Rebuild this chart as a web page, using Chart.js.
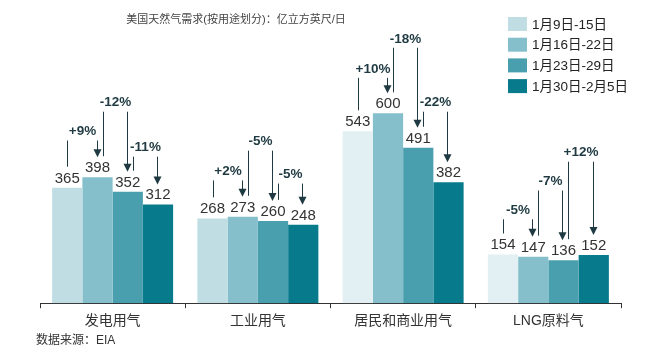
<!DOCTYPE html>
<html>
<head>
<meta charset="utf-8">
<script src="https://cdn.jsdelivr.net/npm/chart.js@4/dist/chart.umd.min.js"></script>
<style>
  html, body { margin: 0; padding: 0; background: #fff; }
  #wrap { width: 661px; height: 354px; }
</style>
</head>
<body>
<div id="wrap"><canvas id="gasChart" width="661" height="354"></canvas></div>
<script>
const categories = ['发电用气', '工业用气', '居民和商业用气', 'LNG原料气'];
const weeks = ['1月9日-15日', '1月16日-22日', '1月23日-29日', '1月30日-2月5日'];
const week1 = [365, 268, 543, 154];
const week2 = [398, 273, 600, 147];
const week3 = [352, 260, 491, 136];
const week4 = [312, 248, 382, 152];
// week-on-week change per category: [w1->w2, w2->w3, w3->w4]
const changes = [
    ['+9%', '-12%', '-11%'],
    ['+2%', '-5%', '-5%'],
    ['+10%', '-18%', '-22%'],
    ['-5%', '-7%', '+12%']
];
// height of each change bracket, in data units (y scale)
const bracketLevels = [
    [514, 605, 463],
    [388, 482, 378],
    [712, 807, 605],
    [265, 356, 447]
];

const titleText = '美国天然气需求(按用途划分)：亿立方英尺/日';
const sourceText = '数据来源：EIA';
const seriesColors = ['#bfdde3', '#85bfcb', '#4a9fae', '#077b8c'];
const week1Colors = ['#bfdde3', '#bfdde3', '#e3f0f3', '#e3f0f3'];
const ink = '#1f3a42';
const FONT = '"Liberation Sans", Arial, "Noto Sans CJK SC", sans-serif';

const extras = {
    id: 'extras',
    afterDatasetsDraw(chart) {
        const c = chart.ctx;
        const y = chart.scales.y;
        c.save();

        // value labels
        c.fillStyle = '#333';
        c.font = '15px ' + FONT;
        c.textAlign = 'center';
        c.textBaseline = 'alphabetic';
        chart.data.datasets.forEach((ds, di) => {
            chart.getDatasetMeta(di).data.forEach((bar, i) => {
                c.fillText(String(ds.data[i]), bar.x, bar.y - 5);
            });
        });

        // change brackets
        c.strokeStyle = ink;
        c.fillStyle = ink;
        c.lineWidth = 1;
        categories.forEach((cat, ci) => {
            for (let p = 0; p < 3; p++) {
                const a = chart.getDatasetMeta(p).data[ci];
                const b = chart.getDatasetMeta(p + 1).data[ci];
                const x1 = Math.round(a.x + (p === 0 ? 0 : 5)) + 0.5;
                const x2 = Math.round(b.x - 1) + 0.5;
                const top = y.getPixelForValue(bracketLevels[ci][p]);
                const startBottom = a.y - 21;
                const endBottom = b.y - 20;
                c.beginPath();
                c.moveTo(x1, top);
                c.lineTo(x1, startBottom);
                c.moveTo(x2, top);
                c.lineTo(x2, endBottom - 7);
                c.stroke();
                c.beginPath();
                c.moveTo(x2 - 4, endBottom - 8);
                c.lineTo(x2 + 4, endBottom - 8);
                c.lineTo(x2, endBottom);
                c.closePath();
                c.fill();
                c.font = 'bold 13.5px ' + FONT;
                c.textAlign = 'center';
                c.textBaseline = 'middle';
                c.fillText(changes[ci][p], (x1 + x2) / 2, top - 9);
            }
        });

        // title
        c.fillStyle = '#444';
        c.font = '11px ' + FONT;
        c.textAlign = 'center';
        c.textBaseline = 'middle';
        c.fillText(titleText, 236, 20);

        // legend
        c.font = '13.5px ' + FONT;
        c.textAlign = 'left';
        weeks.forEach((w, i) => {
            const cy = 24 + i * 20.7;
            c.fillStyle = seriesColors[i];
            c.fillRect(508, cy - 7, 19, 14);
            c.fillStyle = '#222';
            c.fillText(w, 532, cy + 1);
        });

        // source
        c.fillStyle = '#333';
        c.font = '12px ' + FONT;
        c.fillText(sourceText, 36, 341);
        c.restore();
    }
};

const ctx = document.getElementById('gasChart').getContext('2d');
new Chart(ctx, {
    type: 'bar',
    data: {
        labels: categories,
        datasets: [
            { label: weeks[0], data: week1, backgroundColor: week1Colors },
            { label: weeks[1], data: week2, backgroundColor: seriesColors[1] },
            { label: weeks[2], data: week3, backgroundColor: seriesColors[2] },
            { label: weeks[3], data: week4, backgroundColor: seriesColors[3] }
        ]
    },
    options: {
        responsive: false,
        animation: false,
        layout: { padding: { left: 40, right: 40, top: 50, bottom: 19 } },
        datasets: { bar: { categoryPercentage: 0.833, barPercentage: 1.0 } },
        plugins: {
            legend: { display: false },
            title: { display: false },
            tooltip: { enabled: false }
        },
        scales: {
            x: {
                offset: true,
                grid: { offset: true, drawOnChartArea: false, tickLength: 5, color: '#333' },
                border: { display: true, color: '#333' },
                ticks: { color: '#333', padding: 5, font: { size: 14, family: FONT } }
            },
            y: {
                display: false,
                min: 0,
                max: 800
            }
        }
    },
    plugins: [extras]
});
</script>
</body>
</html>
